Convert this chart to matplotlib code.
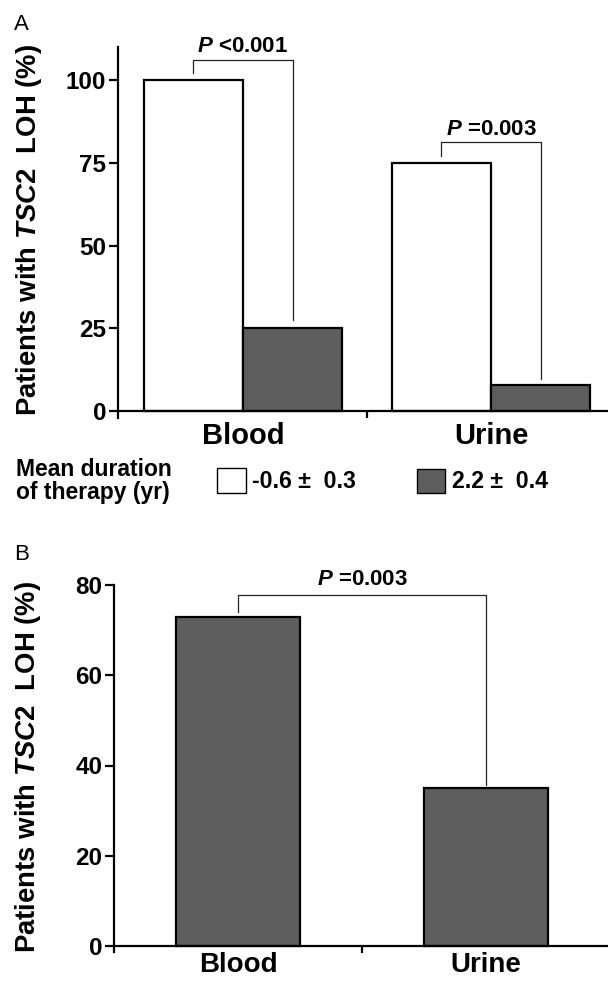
import matplotlib
matplotlib.use("Agg")
import matplotlib.pyplot as plt
from matplotlib.patches import Rectangle
import numpy as np

plt.rcParams['font.family'] = ['Liberation Sans', 'DejaVu Sans']
plt.rcParams['font.weight'] = 'bold'
plt.rcParams['mathtext.fontset'] = 'custom'
plt.rcParams['mathtext.it'] = 'Liberation Sans:italic:bold'
plt.rcParams['mathtext.rm'] = 'Liberation Sans:bold'
plt.rcParams['mathtext.bf'] = 'Liberation Sans:bold'

# ---------------- data ----------------
categories = ["Blood", "Urine"]
# Panel A: LOH by mean duration of therapy
early_therapy = [100, 75]     # -0.6 ± 0.3 yr
late_therapy = [25, 8]        # 2.2 ± 0.4 yr
legend_labels = ["-0.6 \u00b1  0.3", "2.2 \u00b1  0.4"]
a_yticks = [0, 25, 50, 75, 100]
a_pvalues = ["<0.001", "=0.003"]
a_bracket_left = [102, 77]
a_bracket_top = [106, 81.2]
a_bracket_right = [27.5, 9.7]
a_pvalue_y = [110, 85]
# Panel B: overall LOH
overall = [73, 35]
b_yticks = [0, 20, 40, 60, 80]
b_pvalue = "=0.003"
b_bracket = [74, 77.7, 35.7]
b_pvalue_y = 81.3

W, H = 608, 983
fig = plt.figure(figsize=(W / 100, H / 100), dpi=100)

def fx(x):
    return x / W

def fy(y):
    return 1 - y / H

gray = '#5e5e5e'
tick_fs = 17.5
ylab_fs = 19.8
p_fs = 16

def style_axes(ax, yticks, ylo, yhi, cat_fs, cat_pad):
    for s in ['top', 'right']:
        ax.spines[s].set_visible(False)
    for s in ['left', 'bottom']:
        ax.spines[s].set_linewidth(1.6)
    ax.spines['bottom'].set_position(('data', 0))
    ax.set_yticks(yticks)
    ax.set_ylim(ylo, yhi)
    ax.tick_params(axis='y', direction='out', length=6.5, width=1.6, pad=2,
                   labelsize=tick_fs)
    for lab in ax.get_yticklabels():
        lab.set_fontweight('bold')
    x = np.arange(len(categories))
    ax.set_xticks(x)
    ax.set_xticklabels(categories, fontsize=cat_fs, fontweight='bold')
    ax.tick_params(axis='x', which='major', length=0, pad=cat_pad)
    ax.set_xticks([0.5], minor=True)
    ax.tick_params(axis='x', which='minor', direction='out', length=5, width=1.6)

# ---------------- Panel A ----------------
a_lo = -2
a_px = (411 - 47) / 110.0
axA = fig.add_axes([fx(118), fy(411 - a_lo * a_px), fx(608) - fx(118), fy(47) - fy(411 - a_lo * a_px)])
x = np.arange(len(categories))
bw = 0.40
axA.bar(x - bw / 2, early_therapy, width=bw, color='white', edgecolor='black', linewidth=1.6, zorder=2)
axA.bar(x + bw / 2, late_therapy, width=bw, color=gray, edgecolor='black', linewidth=1.6, zorder=2)
axA.set_xlim((118 - 243) / 248, (608 - 243) / 248)
style_axes(axA, a_yticks, a_lo, 110, 21, 8)
for i in range(len(categories)):
    xl, xr = x[i] - bw / 2, x[i] + bw / 2
    axA.plot([xl, xl, xr, xr], [a_bracket_left[i], a_bracket_top[i], a_bracket_top[i], a_bracket_right[i]],
             color='#222222', lw=0.9, clip_on=False, zorder=3)
    axA.text(x[i], a_pvalue_y[i], r"$\mathit{P}$ " + a_pvalues[i], ha='center', va='center',
             fontsize=p_fs, fontweight='bold', clip_on=False)

fig.text(fx(29), fy(230), r"Patients with $\mathit{TSC2}$  LOH (%)", rotation=90,
         ha='center', va='center', fontsize=ylab_fs, fontweight='bold')
fig.text(fx(14), fy(24), "A", ha='left', va='center', fontsize=16, fontweight='normal')

# legend
fig.text(fx(16), fy(481), "Mean duration\nof therapy (yr)", ha='left', va='center',
         fontsize=16.5, fontweight='bold', linespacing=1.0)
fig.add_artist(Rectangle((fx(217), fy(493)), fx(29), fy(468) - fy(493), transform=fig.transFigure,
                         facecolor='white', edgecolor='black', linewidth=1.0))
fig.text(fx(252), fy(481), legend_labels[0], ha='left', va='center', fontsize=16.7, fontweight='bold')
fig.add_artist(Rectangle((fx(417), fy(493)), fx(28), fy(469) - fy(493), transform=fig.transFigure,
                         facecolor=gray, edgecolor='black', linewidth=1.0))
fig.text(fx(452), fy(481), legend_labels[1], ha='left', va='center', fontsize=16.7, fontweight='bold')

# ---------------- Panel B ----------------
b_zero = 946
b_lo = -1.3
b_px = (b_zero - 585) / 80.0
axB = fig.add_axes([fx(114), fy(b_zero - b_lo * b_px), fx(608) - fx(114), fy(585) - fy(b_zero - b_lo * b_px)])
bwB = 0.5
axB.bar(x, overall, width=bwB, color=gray, edgecolor='black', linewidth=1.6, zorder=2)
axB.set_xlim((114 - 238) / 248, (608 - 238) / 248)
style_axes(axB, b_yticks, b_lo, 80, 20, 4)
axB.plot([x[0], x[0], x[1], x[1]], b_bracket[:2] + [b_bracket[1], b_bracket[2]],
         color='#222222', lw=0.9, clip_on=False, zorder=3)
axB.text(0.5, b_pvalue_y, r"$\mathit{P}$ " + b_pvalue, ha='center', va='center',
         fontsize=p_fs, fontweight='bold', clip_on=False)

fig.text(fx(28), fy(767), r"Patients with $\mathit{TSC2}$  LOH (%)", rotation=90,
         ha='center', va='center', fontsize=ylab_fs, fontweight='bold')
fig.text(fx(14), fy(555), "B", ha='left', va='center', fontsize=16, fontweight='normal')

fig.savefig("out.png", dpi=100)
